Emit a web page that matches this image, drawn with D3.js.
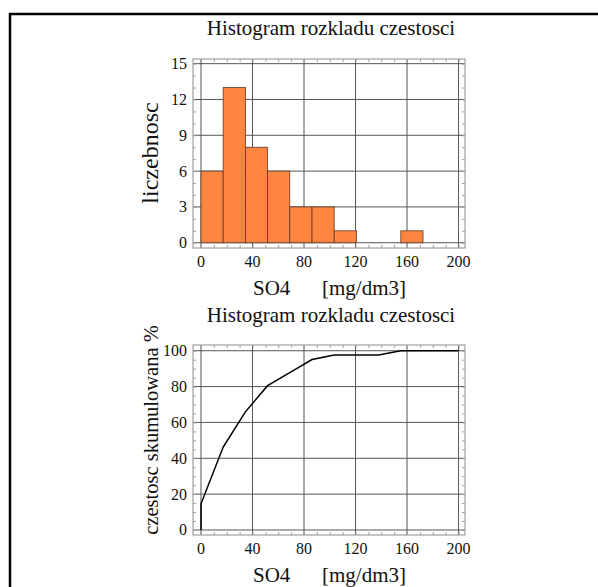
<!DOCTYPE html>
<html>
<head>
<meta charset="utf-8">
<script src="https://cdn.jsdelivr.net/npm/d3@7"></script>
<style>
  body { margin: 0; background: #fff; }
  svg text { font-family: "Liberation Serif", "Times New Roman", serif; fill: #111; }
</style>
</head>
<body>
<div id="chart"></div>
<script>
// histogram bins (lower edges) and counts
const binStarts = [0, 17.24, 34.48, 51.72, 68.96, 86.2, 103.44, 120.68, 137.92, 155.16]
const binWidth = 17.24
const counts = [6, 13, 8, 6, 3, 3, 1, 0, 0, 1]

// cumulative frequency curve
const cumX = [0, 0, 17.24, 34.48, 51.72, 68.96, 86.2, 103.44, 120.68, 137.92, 155.16, 200]
const cumPct = [0, 14.6, 46.3, 65.9, 80.5, 87.8, 95.1, 97.6, 97.6, 97.6, 100, 100]

const xTicks = [0, 40, 80, 120, 160, 200]
const yTicksHist = [0, 3, 6, 9, 12, 15]
const yTicksCum = [0, 20, 40, 60, 80, 100]

const TITLE = "Histogram rozkladu czestosci"

const W = 598, H = 587
const FRAME = {LEFT: 193, RIGHT: 465}

const svg = d3.select("#chart").append("svg")
    .attr("width", W)
    .attr("height", H)

// outer border (top + left only)
svg.append("path")
    .attr("d", `M10,587 V14 H598`)
    .attr("fill", "none")
    .attr("stroke", "#000")
    .attr("stroke-width", 2.5)

function drawPanel(opts) {
    const x = d3.scaleLinear().domain([-6.2, 205]).range([FRAME.LEFT, FRAME.RIGHT])
    const y = d3.scaleLinear().domain(opts.yDomain).range([opts.bottom, opts.top])
    const g = svg.append("g")

    // grid lines
    g.append("g").selectAll("line").data(xTicks).join("line")
        .attr("x1", d => x(d)).attr("x2", d => x(d))
        .attr("y1", opts.top).attr("y2", opts.bottom)
        .attr("stroke", "#555").attr("stroke-width", 1)
    g.append("g").selectAll("line").data(opts.yTicks).join("line")
        .attr("y1", d => y(d)).attr("y2", d => y(d))
        .attr("x1", FRAME.LEFT).attr("x2", FRAME.RIGHT)
        .attr("stroke", "#555").attr("stroke-width", 1)

    opts.marks(g, x, y)

    // frame with inward minor ticks on all sides
    const xMinor = d3.range(0, 201, 10)
    const yMinor = d3.range(0, opts.yTicks[opts.yTicks.length - 1] + 0.001, opts.yMinorStep)
    const frameCol = "#a0a0a0"
    const bottomAxis = d3.axisBottom(x).tickValues(xMinor).tickSize(-3).tickFormat("")
    const topAxis = d3.axisTop(x).tickValues(xMinor).tickSize(-3).tickFormat("")
    const leftAxis = d3.axisLeft(y).tickValues(yMinor).tickSize(-3).tickFormat("")
    const rightAxis = d3.axisRight(y).tickValues(yMinor).tickSize(-3).tickFormat("")
    g.append("g").attr("transform", `translate(0,${opts.bottom})`).call(bottomAxis)
    g.append("g").attr("transform", `translate(0,${opts.top})`).call(topAxis)
    g.append("g").attr("transform", `translate(${FRAME.LEFT},0)`).call(leftAxis)
    g.append("g").attr("transform", `translate(${FRAME.RIGHT},0)`).call(rightAxis)
    g.selectAll(".domain").remove()
    g.selectAll(".tick line").attr("stroke", frameCol)
    g.append("rect")
        .attr("x", FRAME.LEFT).attr("y", opts.top)
        .attr("width", FRAME.RIGHT - FRAME.LEFT).attr("height", opts.bottom - opts.top)
        .attr("fill", "none").attr("stroke", frameCol).attr("stroke-width", 1.2)

    // tick labels
    g.append("g").selectAll("text").data(xTicks).join("text")
        .attr("x", d => x(d)).attr("y", opts.bottom + 19)
        .attr("text-anchor", "middle")
        .style("font-size", "16px")
        .text(d => d)
    g.append("g").selectAll("text").data(opts.yTicks).join("text")
        .attr("x", FRAME.LEFT - 6).attr("y", d => y(d) + 5.5)
        .attr("text-anchor", "end")
        .style("font-size", "16px")
        .text(d => d)

    // title and labels
    svg.append("text")
        .attr("x", 331).attr("y", opts.titleY)
        .attr("text-anchor", "middle")
        .style("font-size", "21px")
        .text(TITLE)
    svg.append("text")
        .attr("x", 253).attr("y", opts.bottom + 47)
        .style("font-size", "21px")
        .text("SO4")
    svg.append("text")
        .attr("x", 322).attr("y", opts.bottom + 47)
        .style("font-size", "21px")
        .text("[mg/dm3]")
    svg.append("text")
        .attr("transform", `translate(158,${opts.labelCY}) rotate(-90)`)
        .attr("text-anchor", "middle")
        .style("font-size", opts.labelSize)
        .text(opts.yLabel)
}

drawPanel({
    top: 59, bottom: 248,
    yDomain: [-0.44, 15.39],
    yTicks: yTicksHist, yMinorStep: 1,
    titleY: 35, labelCY: 153, labelSize: "24px",
    yLabel: "liczebnosc",
    marks: (g, x, y) => {
        const bins = counts.map((c, i) => ({x0: binStarts[i], x1: binStarts[i] + binWidth, n: c}))
            .filter(b => b.n > 0)
        g.append("g").selectAll("rect").data(bins).join("rect")
            .attr("x", d => x(d.x0))
            .attr("y", d => y(d.n))
            .attr("width", d => x(d.x1) - x(d.x0))
            .attr("height", d => y(0) - y(d.n))
            .attr("fill", "#ff8540")
            .attr("stroke", "#5a3a28")
            .attr("stroke-width", 0.8)
    }
})

drawPanel({
    top: 345, bottom: 535,
    yDomain: [-2.8, 103.2],
    yTicks: yTicksCum, yMinorStep: 5,
    titleY: 322, labelCY: 430, labelSize: "20.5px",
    yLabel: "czestosc skumulowana %",
    marks: (g, x, y) => {
        const line = d3.line().x(d => x(d[0])).y(d => y(d[1]))
        g.append("path")
            .datum(cumX.map((v, i) => [v, cumPct[i]]))
            .attr("d", line)
            .attr("fill", "none")
            .attr("stroke", "#000")
            .attr("stroke-width", 1.5)
    }
})
</script>
</body>
</html>
